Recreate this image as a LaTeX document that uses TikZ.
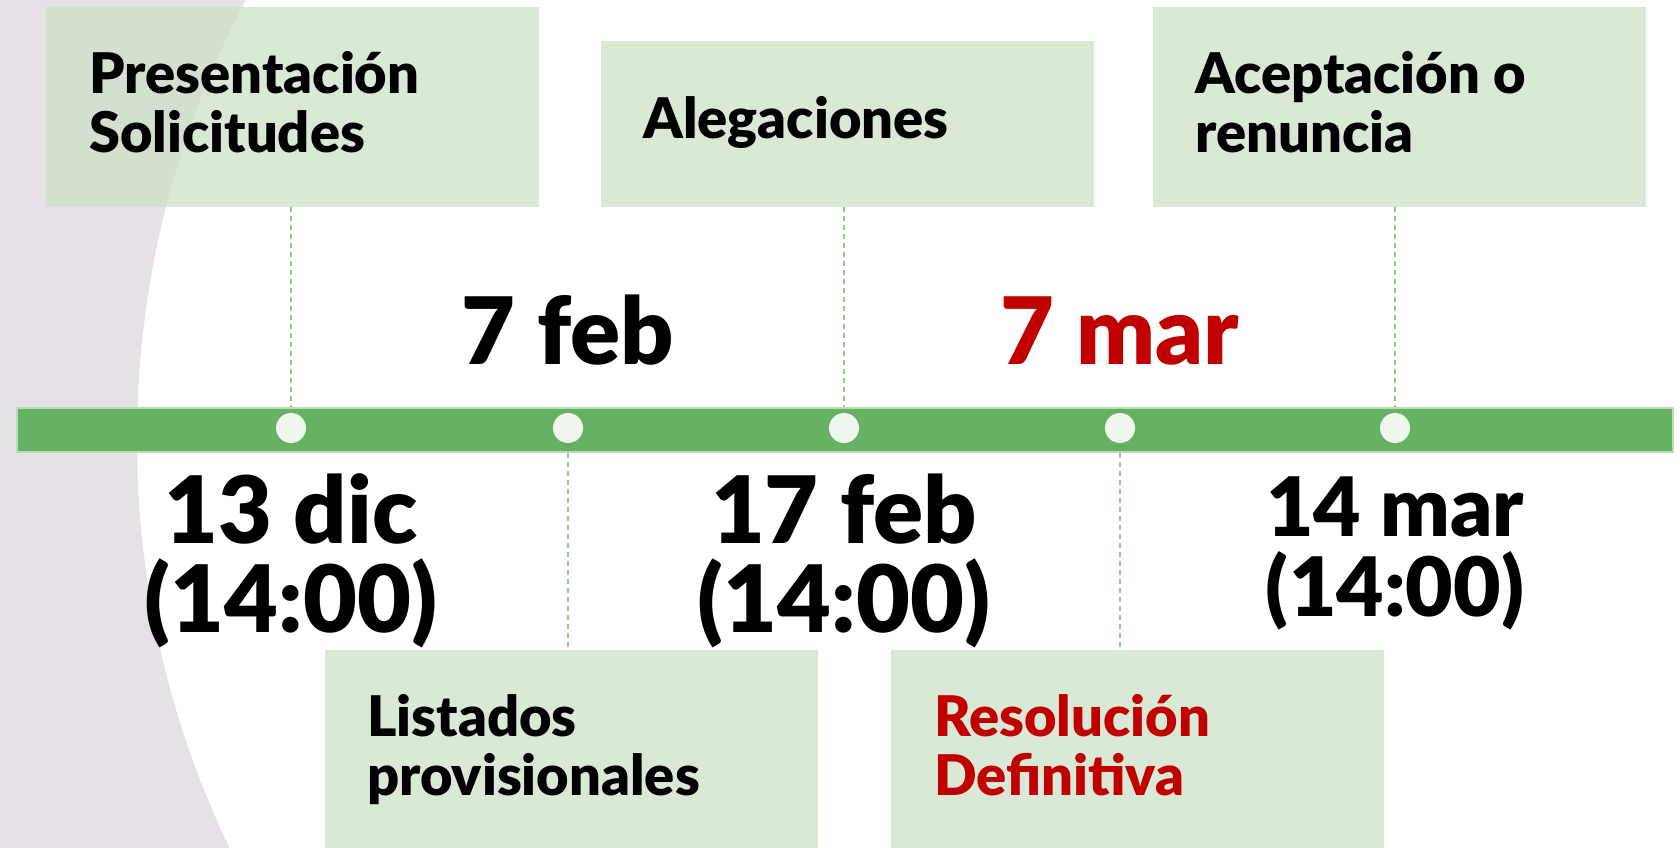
\documentclass[tikz,border=0pt]{standalone}
\usepackage{fontspec}
\setmainfont{Lato}[BoldFont={Lato Black}]
\usetikzlibrary{positioning,calc}
\definecolor{barGreen}{RGB}{102,178,98}
\definecolor{boxGreen}{RGB}{205,224,200}
\definecolor{dotWhite}{RGB}{238,246,237}
\definecolor{linkGreen}{RGB}{146,204,140}
\definecolor{bgMauve}{RGB}{230,225,230}
\definecolor{deadRed}{RGB}{192,0,0}

\begin{document}
\begin{tikzpicture}[x=1pt,y=-1pt,
 phase/.style={fill=boxGreen,fill opacity=0.75,minimum width=493pt,inner sep=0pt,anchor=north west},
 phaselbl/.style={font=\fontsize{56}{59}\selectfont\bfseries,align=left,anchor=base west,inner sep=0pt},
 datelbl/.style={font=\fontsize{93}{89}\selectfont\bfseries,align=center,anchor=base,inner sep=0pt},
 link/.style={linkGreen,line width=1.6pt,dash pattern=on 5pt off 4pt},
 tick/.style={circle,fill=dotWhite,minimum size=30pt,inner sep=0pt}]
\useasboundingbox (0,0) rectangle (1680,848);
% backdrop: page minus a large disc
\begin{scope}
\clip (0,0) rectangle (1680,848);
\fill[bgMauve,even odd rule] (0,0) rectangle (1680,848) (1080,440) circle[radius=943];
\end{scope}
\node[phase,minimum height=200pt] (solic) at (46,7) {};
\node[phase,minimum height=166pt] (alleg) at (601,41) {};
\node[phase,minimum height=200pt] (acept) at (1153,7) {};
\node[phase,minimum height=200pt] (lists) at (325,650) {};
\node[phase,minimum height=200pt] (resol) at (891,650) {};
\node[fill=barGreen,draw=barGreen!45!white,line width=1.5pt,minimum width=1656pt,minimum height=44pt,
 inner sep=0pt,anchor=north west] (bar) at (16,407) {};
\foreach \x [count=\i] in {291,568,844,1120,1395}
  \node[tick] (t\i) at (\x,428) {};
\draw[link] (t1 |- solic.south) -- (t1 |- bar.north);
\draw[link] (t3 |- alleg.south) -- (t3 |- bar.north);
\draw[link] (t5 |- acept.south) -- (t5 |- bar.north);
\draw[link] (t2 |- bar.south) -- (t2 |- lists.north);
\draw[link] (t4 |- bar.south) -- (t4 |- resol.north);
% phase names (base = last line)
\node[phaselbl] (solicT) at ($(solic.north west)+(43,146)$) {Presentación\\Solicitudes};
\node[phaselbl] (allegT) at ($(alleg.north west)+(42,98)$) {Alegaciones};
\node[phaselbl] (aceptT) at ($(acept.north west)+(42,146)$) {Aceptación o\\renuncia};
\node[phaselbl] (listsT) at ($(lists.north west)+(42,145)$) {Listados\\provisionales};
\node[phaselbl,deadRed] (resolT) at ($(resol.north west)+(43,145)$) {Resolución\\Definitiva};
% dates
\node[datelbl] (feb7) at (t2 |- 0,364) {7 feb};
\node[datelbl,deadRed] (mar7) at (t4 |- 0,364) {7 mar};
\node[datelbl] (dic13) at (t1 |- 0,632) {13 dic\\(14:00)};
\node[datelbl] (feb17) at (t3 |- 0,632) {17 feb\\(14:00)};
\node[datelbl,font=\fontsize{82}{80}\selectfont\bfseries] (mar14) at (t5 |- 0,616) {14 mar\\(14:00)};
\end{tikzpicture}
\end{document}
